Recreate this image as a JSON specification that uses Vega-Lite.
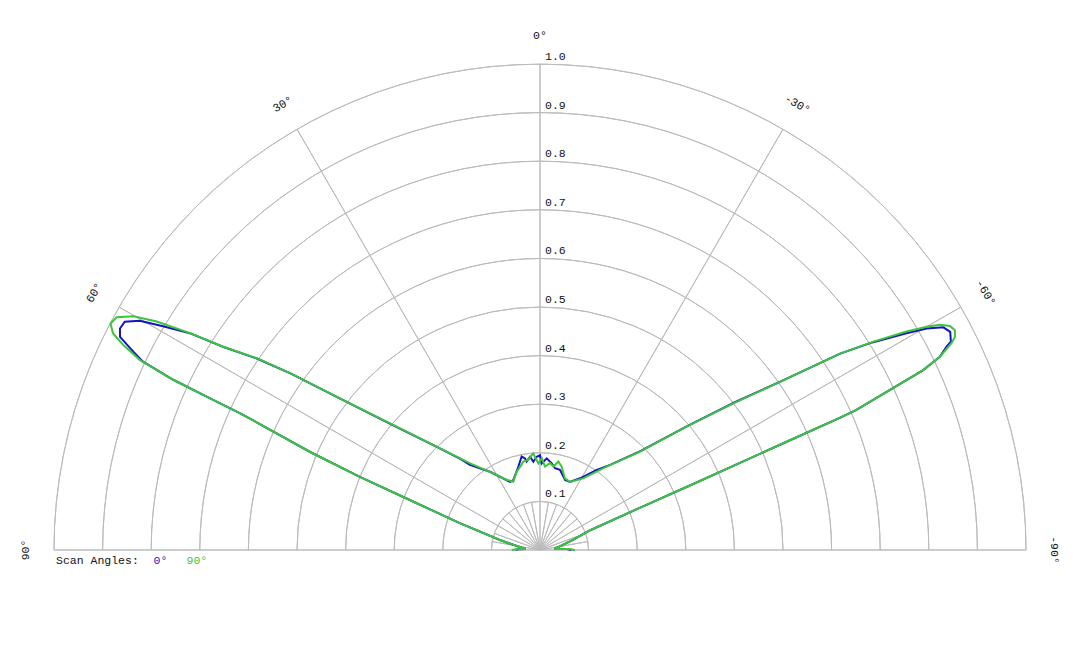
{
  "$schema": "https://vega.github.io/schema/vega-lite/v6.json",
  "width": 1080,
  "height": 648,
  "padding": 0,
  "autosize": {"type": "none"},
  "config": {
    "view": {"stroke": null},
    "text": {"font": "Liberation Mono", "fontSize": 11.5, "color": "#111111"}
  },
  "datasets": {
    "rings": [
      {"r": 0.1}, {"r": 0.2}, {"r": 0.3}, {"r": 0.4}, {"r": 0.5},
      {"r": 0.6}, {"r": 0.7}, {"r": 0.8}, {"r": 0.9}, {"r": 1.0}
    ],
    "spokes": [
      {"a": -90, "len": 1}, {"a": -60, "len": 1}, {"a": -30, "len": 1}, {"a": 0, "len": 1},
      {"a": 30, "len": 1}, {"a": 60, "len": 1}, {"a": 90, "len": 1},
      {"a": -80, "len": 0.1}, {"a": -70, "len": 0.1}, {"a": -50, "len": 0.1}, {"a": -40, "len": 0.1},
      {"a": -20, "len": 0.1}, {"a": -10, "len": 0.1}, {"a": 10, "len": 0.1}, {"a": 20, "len": 0.1},
      {"a": 40, "len": 0.1}, {"a": 50, "len": 0.1}, {"a": 70, "len": 0.1}, {"a": 80, "len": 0.1}
    ],
    "angleLabels": [
      {"a": 90, "label": "90°"}, {"a": 60, "label": "60°"}, {"a": 30, "label": "30°"},
      {"a": 0, "label": "0°"}, {"a": -30, "label": "-30°"}, {"a": -60, "label": "-60°"},
      {"a": -90, "label": "-90°"}
    ],
    "patterns": [
      {"scan": "0°", "a": 90, "r": 0.05}, {"scan": "0°", "a": 88, "r": 0.045},
      {"scan": "0°", "a": 86, "r": 0.03}, {"scan": "0°", "a": 84.2, "r": 0.035},
      {"scan": "0°", "a": 80, "r": 0.05}, {"scan": "0°", "a": 76, "r": 0.085},
      {"scan": "0°", "a": 71.5, "r": 0.174}, {"scan": "0°", "a": 69, "r": 0.287},
      {"scan": "0°", "a": 67.9, "r": 0.4}, {"scan": "0°", "a": 66.9, "r": 0.514},
      {"scan": "0°", "a": 65.8, "r": 0.631}, {"scan": "0°", "a": 65.5, "r": 0.678},
      {"scan": "0°", "a": 65.3, "r": 0.755}, {"scan": "0°", "a": 65.1, "r": 0.832},
      {"scan": "0°", "a": 64.6, "r": 0.905}, {"scan": "0°", "a": 64.0, "r": 0.931},
      {"scan": "0°", "a": 63.1, "r": 0.969}, {"scan": "0°", "a": 62.2, "r": 0.977},
      {"scan": "0°", "a": 61.2, "r": 0.975}, {"scan": "0°", "a": 60.2, "r": 0.949},
      {"scan": "0°", "a": 59.3, "r": 0.902}, {"scan": "0°", "a": 58.2, "r": 0.845},
      {"scan": "0°", "a": 57.3, "r": 0.772}, {"scan": "0°", "a": 55.9, "r": 0.702},
      {"scan": "0°", "a": 54.7, "r": 0.628}, {"scan": "0°", "a": 52.5, "r": 0.499},
      {"scan": "0°", "a": 49.6, "r": 0.395}, {"scan": "0°", "a": 45, "r": 0.3},
      {"scan": "0°", "a": 41.1, "r": 0.248}, {"scan": "0°", "a": 39.5, "r": 0.227},
      {"scan": "0°", "a": 32.6, "r": 0.191}, {"scan": "0°", "a": 23.7, "r": 0.153},
      {"scan": "0°", "a": 20.9, "r": 0.154}, {"scan": "0°", "a": 14.6, "r": 0.177},
      {"scan": "0°", "a": 11.1, "r": 0.196}, {"scan": "0°", "a": 9.3, "r": 0.191},
      {"scan": "0°", "a": 8.6, "r": 0.184}, {"scan": "0°", "a": 6.1, "r": 0.193},
      {"scan": "0°", "a": 4.3, "r": 0.182}, {"scan": "0°", "a": 2.0, "r": 0.192},
      {"scan": "0°", "a": 0, "r": 0.195}, {"scan": "0°", "a": -1.1, "r": 0.178},
      {"scan": "0°", "a": -4.2, "r": 0.189}, {"scan": "0°", "a": -7.7, "r": 0.18},
      {"scan": "0°", "a": -10.4, "r": 0.171}, {"scan": "0°", "a": -14.0, "r": 0.17},
      {"scan": "0°", "a": -19.7, "r": 0.153}, {"scan": "0°", "a": -23.7, "r": 0.153},
      {"scan": "0°", "a": -29.2, "r": 0.169}, {"scan": "0°", "a": -35.3, "r": 0.202},
      {"scan": "0°", "a": -39.5, "r": 0.227}, {"scan": "0°", "a": -45.5, "r": 0.291},
      {"scan": "0°", "a": -49.9, "r": 0.396}, {"scan": "0°", "a": -52.8, "r": 0.502},
      {"scan": "0°", "a": -55.0, "r": 0.605}, {"scan": "0°", "a": -56.8, "r": 0.738},
      {"scan": "0°", "a": -58.0, "r": 0.806}, {"scan": "0°", "a": -59.4, "r": 0.876},
      {"scan": "0°", "a": -60.2, "r": 0.917}, {"scan": "0°", "a": -61.1, "r": 0.948},
      {"scan": "0°", "a": -62.0, "r": 0.956}, {"scan": "0°", "a": -63.1, "r": 0.948},
      {"scan": "0°", "a": -63.4, "r": 0.936}, {"scan": "0°", "a": -64.2, "r": 0.914},
      {"scan": "0°", "a": -64.85, "r": 0.871}, {"scan": "0°", "a": -65.4, "r": 0.792},
      {"scan": "0°", "a": -66.1, "r": 0.712}, {"scan": "0°", "a": -66.2, "r": 0.674},
      {"scan": "0°", "a": -66.3, "r": 0.563}, {"scan": "0°", "a": -66.45, "r": 0.45},
      {"scan": "0°", "a": -66.7, "r": 0.337}, {"scan": "0°", "a": -67.1, "r": 0.224},
      {"scan": "0°", "a": -68.5, "r": 0.111}, {"scan": "0°", "a": -73, "r": 0.071},
      {"scan": "0°", "a": -80, "r": 0.04}, {"scan": "0°", "a": -86, "r": 0.03},
      {"scan": "0°", "a": -88, "r": 0.055}, {"scan": "0°", "a": -90, "r": 0.065},

      {"scan": "90°", "a": 90, "r": 0.058}, {"scan": "90°", "a": 88, "r": 0.05},
      {"scan": "90°", "a": 86, "r": 0.03}, {"scan": "90°", "a": 84.2, "r": 0.035},
      {"scan": "90°", "a": 80, "r": 0.05}, {"scan": "90°", "a": 76, "r": 0.085},
      {"scan": "90°", "a": 71.5, "r": 0.174}, {"scan": "90°", "a": 69, "r": 0.287},
      {"scan": "90°", "a": 67.9, "r": 0.4}, {"scan": "90°", "a": 66.9, "r": 0.514},
      {"scan": "90°", "a": 65.8, "r": 0.631}, {"scan": "90°", "a": 65.5, "r": 0.678},
      {"scan": "90°", "a": 65.3, "r": 0.755}, {"scan": "90°", "a": 65.1, "r": 0.832},
      {"scan": "90°", "a": 64.6, "r": 0.911}, {"scan": "90°", "a": 63.8, "r": 0.956},
      {"scan": "90°", "a": 63.1, "r": 0.985}, {"scan": "90°", "a": 62.2, "r": 0.999},
      {"scan": "90°", "a": 61.2, "r": 0.994}, {"scan": "90°", "a": 60.1, "r": 0.965},
      {"scan": "90°", "a": 59.2, "r": 0.918}, {"scan": "90°", "a": 58.2, "r": 0.847},
      {"scan": "90°", "a": 57.3, "r": 0.774}, {"scan": "90°", "a": 55.9, "r": 0.704},
      {"scan": "90°", "a": 54.7, "r": 0.63}, {"scan": "90°", "a": 52.5, "r": 0.501},
      {"scan": "90°", "a": 49.6, "r": 0.397}, {"scan": "90°", "a": 45, "r": 0.301},
      {"scan": "90°", "a": 41.1, "r": 0.25}, {"scan": "90°", "a": 38.9, "r": 0.229},
      {"scan": "90°", "a": 32.6, "r": 0.191}, {"scan": "90°", "a": 25.4, "r": 0.16},
      {"scan": "90°", "a": 21.4, "r": 0.151}, {"scan": "90°", "a": 16.6, "r": 0.168},
      {"scan": "90°", "a": 13.5, "r": 0.176}, {"scan": "90°", "a": 10.7, "r": 0.185},
      {"scan": "90°", "a": 7.4, "r": 0.187}, {"scan": "90°", "a": 5.0, "r": 0.196},
      {"scan": "90°", "a": 4.0, "r": 0.199}, {"scan": "90°", "a": 3.1, "r": 0.192},
      {"scan": "90°", "a": 1.1, "r": 0.178}, {"scan": "90°", "a": -1.1, "r": 0.189},
      {"scan": "90°", "a": -3.4, "r": 0.172}, {"scan": "90°", "a": -6.6, "r": 0.18},
      {"scan": "90°", "a": -9.1, "r": 0.174}, {"scan": "90°", "a": -11.7, "r": 0.186},
      {"scan": "90°", "a": -14.6, "r": 0.177}, {"scan": "90°", "a": -19.2, "r": 0.156},
      {"scan": "90°", "a": -23.7, "r": 0.153}, {"scan": "90°", "a": -31.1, "r": 0.172},
      {"scan": "90°", "a": -37.8, "r": 0.213}, {"scan": "90°", "a": -45.5, "r": 0.289},
      {"scan": "90°", "a": -49.9, "r": 0.394}, {"scan": "90°", "a": -52.8, "r": 0.499},
      {"scan": "90°", "a": -55.0, "r": 0.603}, {"scan": "90°", "a": -56.8, "r": 0.738},
      {"scan": "90°", "a": -58.0, "r": 0.809}, {"scan": "90°", "a": -59.2, "r": 0.878},
      {"scan": "90°", "a": -60.0, "r": 0.919}, {"scan": "90°", "a": -60.6, "r": 0.944},
      {"scan": "90°", "a": -61.35, "r": 0.961}, {"scan": "90°", "a": -62.1, "r": 0.966},
      {"scan": "90°", "a": -62.8, "r": 0.96}, {"scan": "90°", "a": -63.3, "r": 0.948},
      {"scan": "90°", "a": -64.2, "r": 0.914}, {"scan": "90°", "a": -64.85, "r": 0.871},
      {"scan": "90°", "a": -65.4, "r": 0.792}, {"scan": "90°", "a": -66.1, "r": 0.712},
      {"scan": "90°", "a": -66.2, "r": 0.674}, {"scan": "90°", "a": -66.3, "r": 0.563},
      {"scan": "90°", "a": -66.45, "r": 0.45}, {"scan": "90°", "a": -66.7, "r": 0.337},
      {"scan": "90°", "a": -67.1, "r": 0.224}, {"scan": "90°", "a": -68.5, "r": 0.111},
      {"scan": "90°", "a": -73, "r": 0.071}, {"scan": "90°", "a": -80, "r": 0.04},
      {"scan": "90°", "a": -86, "r": 0.03}, {"scan": "90°", "a": -88, "r": 0.06},
      {"scan": "90°", "a": -90, "r": 0.072}
    ]
  },
  "layer": [
    {
      "data": {"name": "rings"},
      "mark": {"type": "arc", "filled": false, "stroke": "#bbbbbb", "strokeWidth": 1},
      "encoding": {
        "x": {"datum": 0, "type": "quantitative", "scale": {"domain": [-1.1111, 1.1111], "nice": false, "zero": false}, "axis": null},
        "y": {"datum": 0, "type": "quantitative", "scale": {"domain": [-0.20165, 1.13169], "nice": false, "zero": false}, "axis": null},
        "theta": {"datum": -90, "type": "quantitative", "scale": {"domain": [-180, 180], "range": [3.14159265, -3.14159265]}},
        "theta2": {"datum": 90},
        "radius": {"field": "r", "type": "quantitative", "scale": {"type": "linear", "domain": [0, 1], "range": [0, 486], "nice": false}},
        "radius2": {"field": "r"}
      }
    },
    {
      "data": {"name": "spokes"},
      "mark": {"type": "arc", "filled": false, "stroke": "#bbbbbb", "strokeWidth": 1},
      "encoding": {
        "x": {"datum": 0, "type": "quantitative"},
        "y": {"datum": 0, "type": "quantitative"},
        "theta": {"field": "a", "type": "quantitative"},
        "theta2": {"field": "a"},
        "radius": {"field": "len", "type": "quantitative"},
        "radius2": {"datum": 0}
      }
    },
    {
      "data": {"name": "rings"},
      "mark": {"type": "text", "align": "left", "baseline": "alphabetic", "dx": 5, "dy": -4},
      "encoding": {
        "x": {"datum": 0, "type": "quantitative"},
        "y": {"field": "r", "type": "quantitative"},
        "text": {"field": "r", "type": "quantitative", "format": ".1f"}
      }
    },
    {
      "data": {"name": "angleLabels"},
      "mark": {"type": "text", "align": "center", "baseline": "middle"},
      "encoding": {
        "x": {"datum": 0, "type": "quantitative"},
        "y": {"datum": 0, "type": "quantitative"},
        "theta": {"field": "a", "type": "quantitative"},
        "radius": {"datum": 1.058, "type": "quantitative"},
        "angle": {"field": "a", "type": "quantitative", "scale": {"domain": [-180, 180], "range": [180, -180]}},
        "text": {"field": "label"}
      }
    },
    {
      "data": {"name": "patterns"},
      "transform": [
        {"calculate": "-datum.r * sin(datum.a * PI / 180)", "as": "px"},
        {"calculate": "datum.r * cos(datum.a * PI / 180)", "as": "py"}
      ],
      "mark": {"type": "line", "strokeWidth": 2},
      "encoding": {
        "x": {"field": "px", "type": "quantitative"},
        "y": {"field": "py", "type": "quantitative"},
        "order": {"field": "a", "sort": "descending"},
        "color": {
          "field": "scan",
          "type": "nominal",
          "scale": {"domain": ["0°", "90°"], "range": ["#1414c4", "#3cc43c"]},
          "legend": {
            "title": "Scan Angles:",
            "orient": "none",
            "legendX": 56,
            "legendY": 555,
            "direction": "horizontal",
            "titleOrient": "left",
            "titleFont": "Liberation Mono",
            "titleFontSize": 11.5,
            "titleFontWeight": "normal",
            "titleColor": "#111111",
            "titlePadding": 3,
            "labelFont": "Liberation Mono",
            "labelFontSize": 11.5,
            "labelOffset": 0,
            "labelColor": {"expr": "datum.value == '0°' ? '#1414c4' : '#3cc43c'"},
            "symbolSize": 0,
            "symbolStrokeWidth": 0,
            "symbolOpacity": 0,
            "columnPadding": 7
          }
        }
      }
    }
  ]
}
